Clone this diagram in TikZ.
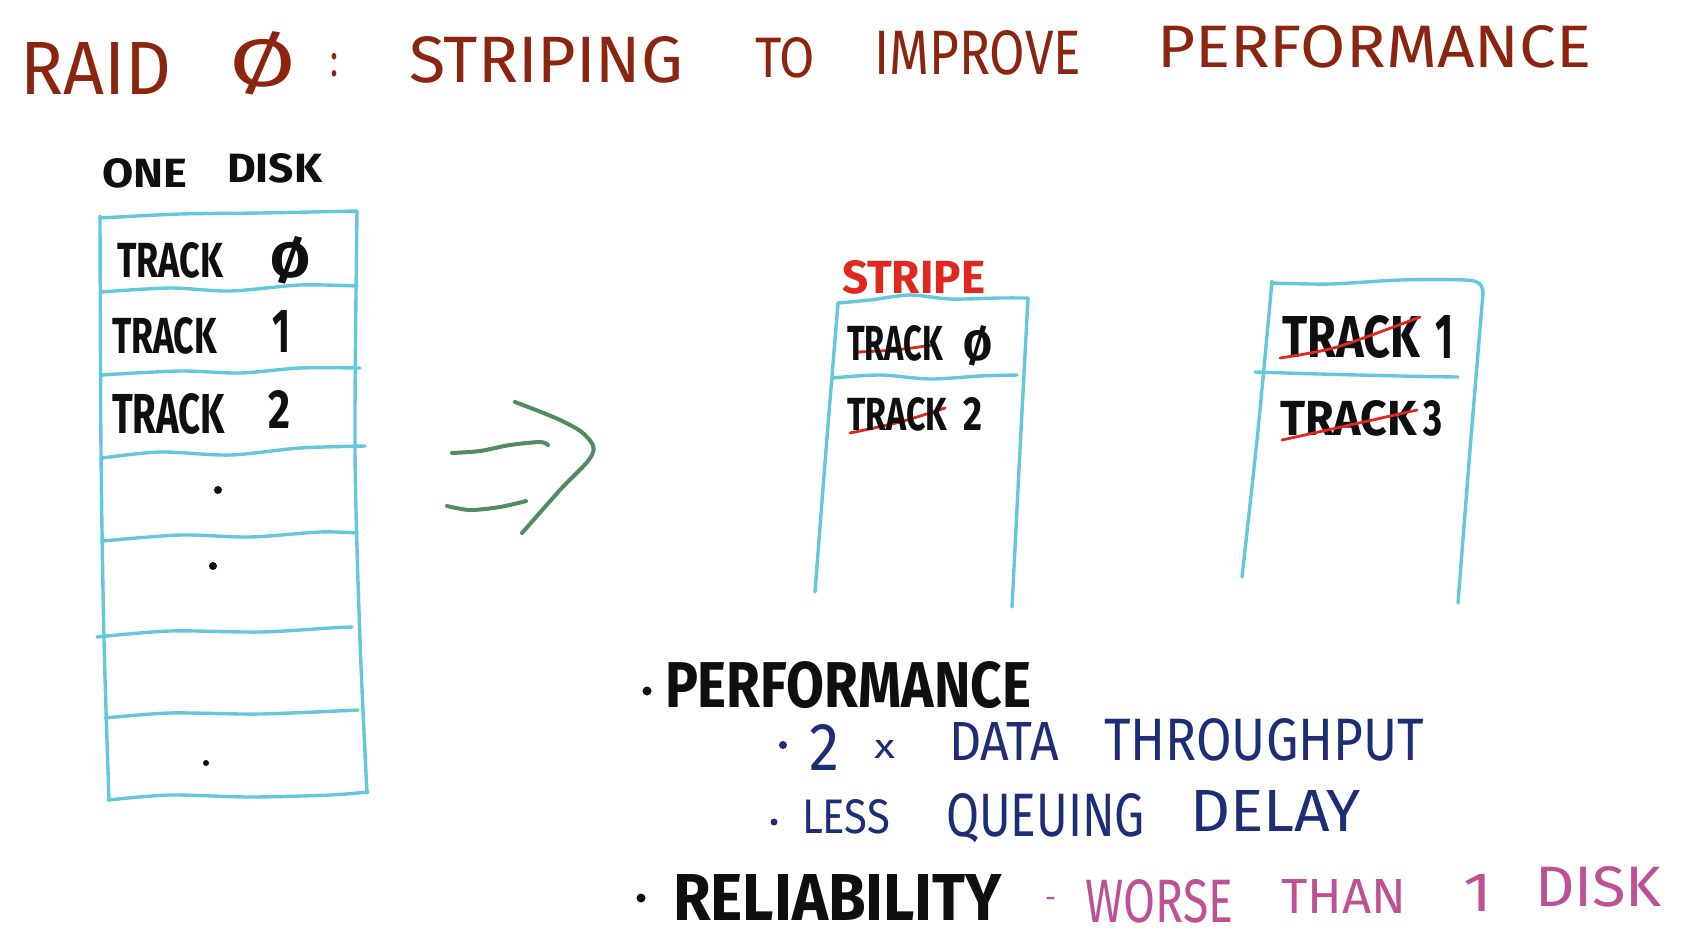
\documentclass[tikz,border=0pt]{standalone}
\usepackage{fontspec}
\usepackage{graphicx}
\setmainfont{Fira Sans}
\newfontfamily\handfont{Fira Sans}
\definecolor{titlec}{RGB}{139,37,16}
\definecolor{boxc}{RGB}{100,200,220}
\definecolor{arrowc}{RGB}{80,140,95}
\definecolor{stripec}{RGB}{225,40,30}
\definecolor{bluec}{RGB}{30,45,120}
\definecolor{pinkc}{RGB}{190,80,150}
\definecolor{inkc}{RGB}{15,15,15}
\newcommand\handword[7]{%
  \node[hand,#6] (#1) at (#2,#4) {\resizebox{\dimexpr(#3pt-#2pt)/2\relax}{\dimexpr#5pt/2\relax}{#7}};}
\tikzset{
  hand/.style={anchor=base west,inner sep=0pt,outer sep=0pt,font=\handfont},
  ttl/.style={text=titlec},
  blk/.style={text=inkc,font={\handfont\bfseries}},
  blu/.style={text=bluec},
  pnk/.style={text=pinkc},
  redt/.style={text=stripec,font={\handfont\bfseries}},
  boxline/.style={draw=boxc,line width=1.7pt,line cap=round,line join=round},
  strike/.style={draw=stripec,line width=1.4pt,line cap=round},
  greenline/.style={draw=arrowc,line width=2pt,line cap=round,line join=round},
}
\begin{document}
\begin{tikzpicture}[x=0.5pt,y=-0.5pt]
\fill[white] (0,0) rectangle (1681,949);
\useasboundingbox (0,0) rectangle (1681,949);

% ---------- title ----------
\handword{tRAID}{20}{171}{94}{52}{ttl}{RAID}
\handword{tZero}{229}{296}{86}{55}{ttl}{Ø}
\handword{tColon}{330}{338}{76}{23}{ttl}{:}
\handword{tStriping}{409}{683}{82}{46}{ttl}{STRIPING}
\handword{tTo}{755}{815}{77}{40}{ttl}{TO}
\handword{tImprove}{874}{1081}{74}{44}{ttl}{IMPROVE}
\handword{tPerf}{1157}{1591}{67}{42}{ttl}{PERFORMANCE}

% ---------- one disk ----------
\handword{oneW}{102}{187}{187}{29}{blk}{ONE}
\handword{diskW}{227}{322}{182}{29}{blk}{DISK}

\draw[boxline] plot[smooth] coordinates {(100,216) (101,450) (104,640) (109,800)};
\draw[boxline] plot[smooth] coordinates {(357,211) (355,450) (360,640) (367,793)};
\draw[boxline] plot[smooth] coordinates {(100,218) (180,214) (260,213) (357,211)};
\draw[boxline] plot[smooth] coordinates {(101,292) (170,288) (230,291) (300,285) (357,286)};
\draw[boxline] plot[smooth] coordinates {(101,375) (180,371) (240,373) (300,368) (360,368)};
\draw[boxline] plot[smooth] coordinates {(102,458) (160,452) (230,455) (300,448) (365,446)};
\draw[boxline] plot[smooth] coordinates {(103,541) (180,535) (250,537) (320,532) (357,533)};
\draw[boxline] plot[smooth] coordinates {(97,637) (170,631) (260,632) (330,628) (352,627)};
\draw[boxline] plot[smooth] coordinates {(105,718) (170,713) (260,714) (358,710)};
\draw[boxline] plot[smooth] coordinates {(108,800) (170,795) (250,797) (330,795) (368,792)};

\handword{lT0}{117}{223}{277}{35}{blk}{TRACK}
\handword{lN0}{270}{310}{277}{41}{blk}{Ø}
\handword{lT1}{112}{217}{353}{36}{blk}{TRACK}
\handword{lN1}{272}{290}{352}{42}{blk}{1}
\handword{lT2}{112}{225}{433}{40}{blk}{TRACK}
\handword{lN2}{268}{290}{428}{38}{blk}{2}

\fill[inkc] (218,490) circle (4);
\fill[inkc] (213,566) circle (4);
\fill[inkc] (206,763) circle (3);

% ---------- arrow ----------
\draw[greenline] plot[smooth] coordinates {(452,453) (480,451) (510,445) (540,442) (548,445)};
\draw[greenline] plot[smooth] coordinates {(447,506) (470,510) (500,507) (526,501)};
\draw[greenline] plot[smooth,tension=0.6] coordinates {(515,402) (560,420) (586,436) (592,455) (560,490) (522,533)};

% ---------- middle disk ----------
\handword{stripeW}{842}{985}{293}{33}{redt}{STRIPE}
\draw[boxline] plot[smooth] coordinates {(838,303) (870,300) (910,295) (950,299) (1000,298) (1028,298)};
\draw[boxline] plot[smooth] coordinates {(838,303) (826,450) (815,592)};
\draw[boxline] plot[smooth] coordinates {(1028,298) (1020,450) (1012,607)};
\draw[boxline] plot[smooth] coordinates {(832,378) (880,375) (930,379) (980,376) (1017,375)};

\draw[strike] plot[smooth] coordinates {(858,352) (895,350) (933,345)};
\draw[strike] plot[smooth] coordinates {(850,433) (900,422) (945,408)};
\handword{mT0}{847}{943}{360}{35}{blk}{TRACK}
\handword{mN0}{963}{992}{360}{35}{blk}{Ø}
\handword{mT2}{847}{947}{430}{33}{blk}{TRACK}
\handword{mN2}{963}{982}{430}{33}{blk}{2}

% ---------- right disk ----------
\draw[boxline] plot[smooth] coordinates {(1272,283) (1330,284) (1400,280) (1465,280) (1480,284) (1483,293)};
\draw[boxline] plot[smooth] coordinates {(1483,293) (1470,450) (1458,603)};
\draw[boxline] plot[smooth] coordinates {(1272,281) (1258,430) (1242,577)};
\draw[boxline] plot[smooth] coordinates {(1255,372) (1320,374) (1400,376) (1458,377)};

\handword{rT1}{1282}{1420}{357}{42}{blk}{TRACK}
\handword{rN1}{1435}{1453}{358}{43}{blk}{1}
\handword{rT3}{1280}{1417}{435}{35}{blk}{TRACK}
\handword{rN3}{1423}{1442}{435}{35}{blk}{3}
\draw[strike] plot[smooth] coordinates {(1280,358) (1337,347) (1420,317)};
\draw[strike] plot[smooth] coordinates {(1282,440) (1350,425) (1417,410)};

% ---------- bullets ----------
\fill[inkc] (647,691) circle (4.5);
\handword{bPerf}{665}{1031}{707}{46}{blk}{PERFORMANCE}

\fill[bluec] (783,745) circle (4);
\handword{b2}{809}{839}{770}{46}{blu}{2}
\handword{bx}{874}{895}{758}{18}{blu}{x}
\handword{bData}{949}{1059}{760}{38}{blu}{DATA}
\handword{bThru}{1104}{1424}{760}{42}{blu}{THROUGHPUT}

\fill[bluec] (774,822) circle (3.5);
\handword{bLess}{802}{890}{833}{34}{blu}{LESS}
\handword{bQueue}{946}{1145}{836}{43}{blu}{QUEUING}
\handword{bDelay}{1190}{1361}{831}{41}{blu}{DELAY}

\fill[inkc] (641,898) circle (4.5);
\handword{bRel}{673}{1002}{920}{46}{blk}{RELIABILITY}
\handword{bDash}{1045}{1056}{907}{10}{pnk}{-}
\handword{bWorse}{1085}{1233}{922}{43}{pnk}{WORSE}
\handword{bThan}{1281}{1406}{913}{34}{pnk}{THAN}
\handword{bOne}{1463}{1492}{911}{37}{pnk}{1}
\handword{bDisk}{1535}{1662}{906}{40}{pnk}{DISK}
\end{tikzpicture}
\end{document}
